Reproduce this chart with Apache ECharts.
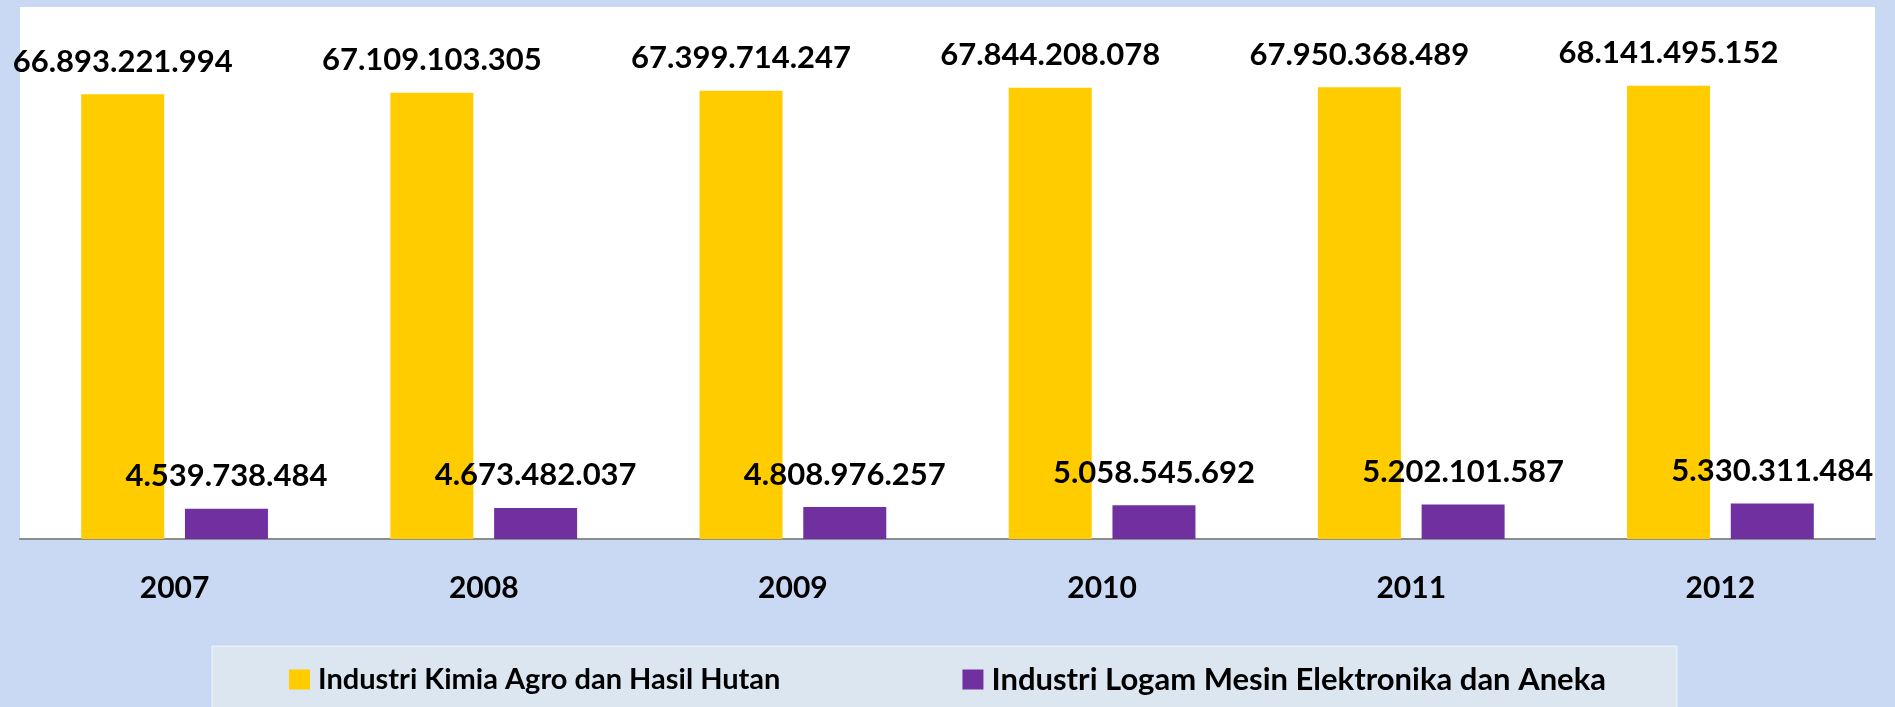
<!DOCTYPE html>
<html>
<head>
<meta charset="utf-8">
<title>Industri</title>
<script src="https://cdn.jsdelivr.net/npm/echarts@6/dist/echarts.min.js"></script>
<style>
    html, body {
        margin: 0;
        padding: 0;
        background: #c9d8f3;
    }
    #main {
        width: 1895px;
        height: 707px;
    }
</style>
</head>
<body>
<div id="main"></div>
<script>
    var years = ['2007', '2008', '2009', '2010', '2011', '2012']
    var seriesNames = ['Industri Kimia Agro dan Hasil Hutan', 'Industri Logam Mesin Elektronika dan Aneka']
    var kimiaAgro = [66893221994, 67109103305, 67399714247, 67844208078, 67950368489, 68141495152]
    var logamMesin = [4539738484, 4673482037, 4808976257, 5058545692, 5202101587, 5330311484]

    var font = 'Lato'

    // 66893221994 -> 66.893.221.994
    function dots (v) {
        return String(v).replace(/\B(?=(\d{3})+(?!\d))/g, '.')
    }

    var labelStyle = {
        show: true,
        position: 'top',
        distance: 17,
        fontFamily: font,
        fontWeight: 'bold',
        fontSize: 31,
        color: '#000',
        formatter: function (p) {
            return dots(p.value)
        }
    }

    function legendText (size) {
        return {
            fontFamily: font,
            fontWeight: 'bold',
            fontSize: size,
            color: '#000',
            padding: [0, 0, 0, 3]
        }
    }

    var myChart = echarts.init(document.getElementById('main'))
    var option = {
        backgroundColor: '#c9d8f3',
        animation: false,
        grid: {
            left: 20,
            right: 20,
            top: 7,
            bottom: 168,
            show: true,
            backgroundColor: '#ffffff',
            borderWidth: 0
        },
        legend: {
            left: 212,
            top: 646,
            padding: [18, 71, 30, 77],
            itemGap: 182,
            itemWidth: 21,
            itemHeight: 20,
            icon: 'rect',
            backgroundColor: '#dce6f1',
            borderColor: '#eef3fa',
            borderWidth: 1,
            data: [
                { name: seriesNames[0], textStyle: legendText(29) },
                { name: seriesNames[1], textStyle: legendText(31) }
            ]
        },
        xAxis: {
            type: 'category',
            data: years,
            axisTick: { show: false },
            axisLine: {
                lineStyle: { color: '#8c8c8c', width: 2 }
            },
            axisLabel: {
                margin: 34,
                fontFamily: font,
                fontWeight: 'bold',
                fontSize: 30,
                color: '#000'
            }
        },
        yAxis: {
            type: 'value',
            min: 0,
            max: 80000000000,
            show: false,
            splitLine: { show: false }
        },
        series: [
            {
                name: seriesNames[0],
                type: 'bar',
                data: kimiaAgro,
                barWidth: 83,
                barGap: '25%',
                itemStyle: { color: '#ffcc00' },
                label: labelStyle
            },
            {
                name: seriesNames[1],
                type: 'bar',
                data: logamMesin,
                barWidth: 83,
                itemStyle: { color: '#7030a0' },
                label: labelStyle
            }
        ]
    }
    myChart.setOption(option)
</script>
</body>
</html>
